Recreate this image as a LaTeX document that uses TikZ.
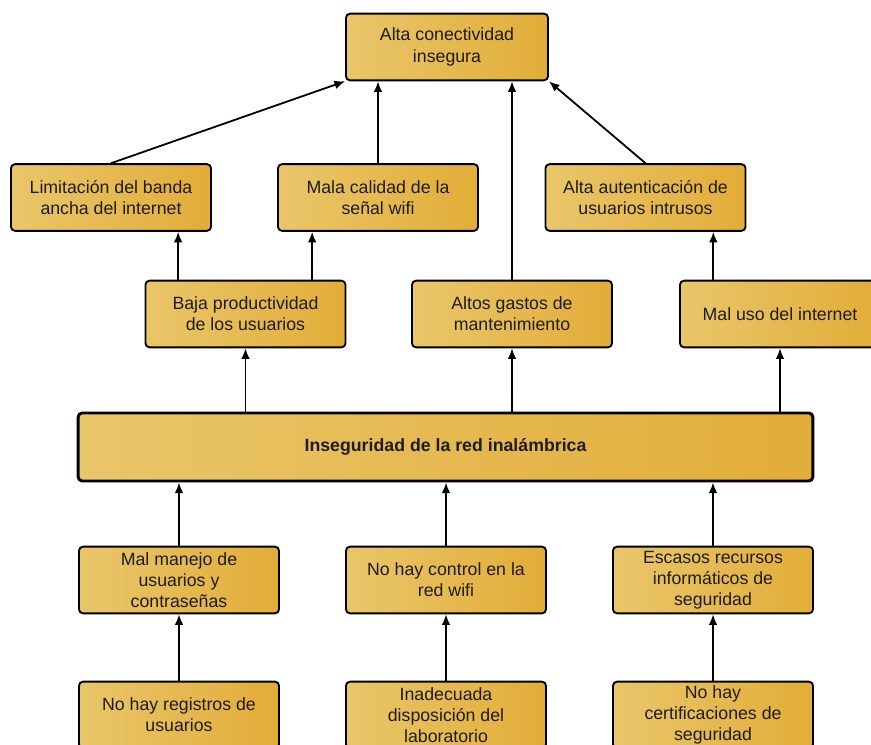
\documentclass[tikz,border=0pt]{standalone}
\usepackage{fontspec}
\setmainfont{Liberation Sans}
\usepackage{xcolor}
\usetikzlibrary{positioning, calc, arrows.meta}
\definecolor{boxleft}{RGB}{233,198,106}
\definecolor{boxright}{RGB}{226,173,56}
\definecolor{inktext}{RGB}{30,28,24}

\begin{document}
\begin{tikzpicture}[x=0.75pt,y=-0.75pt,
    causa/.style={draw=black, line width=1.4pt, rounded corners=3pt,
      left color=boxleft, right color=boxright, text=inktext,
      minimum width=150pt, minimum height=50pt, align=center,
      font=\fontsize{13.3}{15.9}\selectfont, inner sep=2pt},
    nucleo/.style={causa, line width=2.2pt, minimum width=551pt, minimum height=51pt,
      font=\fontsize{13.3}{15.9}\selectfont\bfseries},
    flecha/.style={line width=1.35pt, -{Latex[length=8pt,width=6.5pt]}}]
      \useasboundingbox (0,0) rectangle (871,745);
      % efectos
      \node[causa, minimum width=151.5pt] (alta) at (447,47) {Alta conectividad\\insegura};
      \node[causa] (limita) at (111,197.5) {Limitación del banda\\ancha del internet};
      \node[causa] (senal) at (378,197.5) {Mala calidad de la\\señal wifi};
      \node[causa] (intrusos) at (645.5,197.5) {Alta autenticación de\\usuarios intrusos};
      \node[causa] (baja) at (245.5,314) {Baja productividad\\de los usuarios};
      \node[causa] (gastos) at (512,314) {Altos gastos de\\mantenimiento};
      \node[causa] (maluso) at (780,314) {Mal uso del internet};
      % problema central
      \node[nucleo] (central) at (445.5,447) {Inseguridad de la red inalámbrica};
      % causas
      \node[causa] (manejo) at (179,580) {Mal manejo de\\usuarios y\\contraseñas};
      \node[causa] (control) at (446,580) {No hay control en la\\red wifi};
      \node[causa] (escasos) at (713,580) {Escasos recursos\\informáticos de\\seguridad};
      \node[causa] (registros) at (179,715) {No hay registros de\\usuarios};
      \node[causa] (disposicion) at (446,715) {Inadecuada\\disposición del\\laboratorio};
      \node[causa] (certifica) at (713,715) {No hay\\certificaciones de\\seguridad};
      % flechas hacia arriba
      \draw[flecha] (limita.north) -- (alta.south west);
      \draw[flecha] (senal.north) -- (senal.north |- alta.south);
      \draw[flecha] (gastos.north) -- (gastos.north |- alta.south);
      \draw[flecha] (intrusos.north) -- (alta.south east);
      \draw[flecha] ([xshift=-50.5pt]baja.north) -- ([xshift=-50.5pt]baja.north |- limita.south);
      \draw[flecha] ([xshift=50pt]baja.north) -- ([xshift=50pt]baja.north |- senal.south);
      \draw[flecha] ([xshift=-50pt]maluso.north) -- ([xshift=-50pt]maluso.north |- intrusos.south);
      \draw[flecha] (central.north -| baja.south) -- (baja.south);
      \draw[flecha] (central.north -| gastos.south) -- (gastos.south);
      \draw[flecha] (central.north -| maluso.south) -- (maluso.south);
      \draw[flecha] (manejo.north) -- (manejo.north |- central.south);
      \draw[flecha] (control.north) -- (control.north |- central.south);
      \draw[flecha] (escasos.north) -- (escasos.north |- central.south);
      \draw[flecha] (registros.north) -- (manejo.south);
      \draw[flecha] (disposicion.north) -- (control.south);
      \draw[flecha] (certifica.north) -- (escasos.south);
    \end{tikzpicture}
\end{document}
